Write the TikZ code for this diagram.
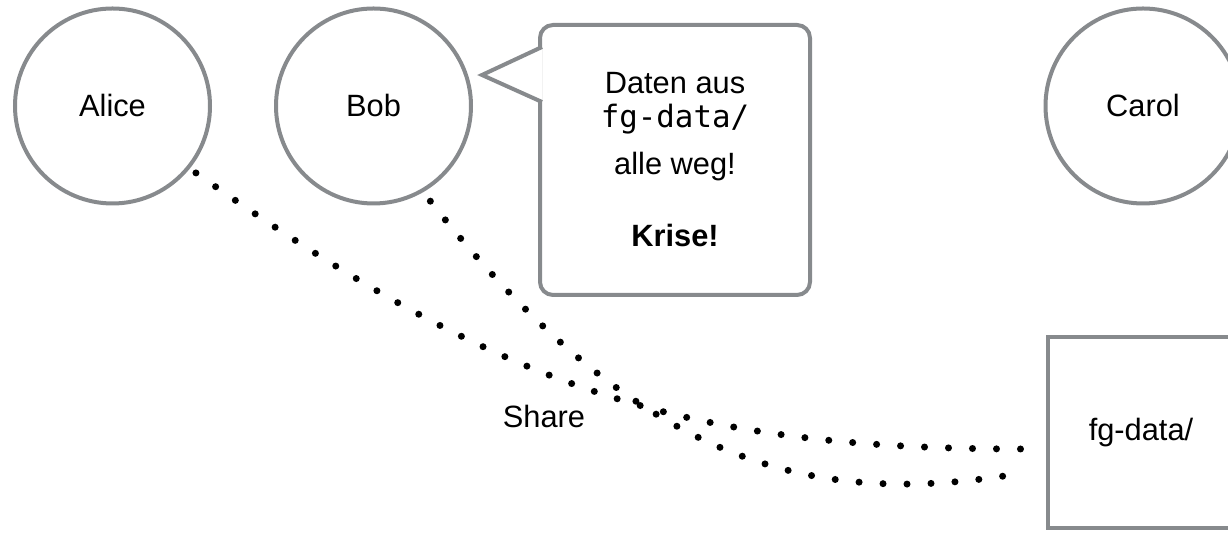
\documentclass[tikz,border=0pt]{standalone}
\usepackage{fontspec}
\setmainfont{Liberation Sans}
\setmonofont{DejaVu Sans Mono}
\definecolor{edgegray}{RGB}{135,138,141}
\tikzstyle{person} = [circle, minimum size=97.5pt, line width=2pt, draw=edgegray]
\tikzstyle{folder} = [rectangle, minimum width=93pt, minimum height=95.5pt, line width=2pt, draw=edgegray]
\tikzstyle{bubble} = [rectangle, rounded corners=6.5pt, minimum width=135pt, minimum height=135pt, line width=2pt, draw=edgegray, align=center]
\tikzstyle{share} = [line width=3.5pt, line cap=round, dash pattern=on 0pt off 12pt]

\begin{document}
\begin{tikzpicture}[x=0.5pt, y=0.5pt, font=\fontsize{15.4}{17}\selectfont]
		\useasboundingbox (0,0) rectangle (1228,539);
		\node (alice) [person] at (112.5,433) {Alice};
		\node (bob) [person] at (373.5,433) {Bob};
		\node (carol) [person] at (1143,433) {Carol};
		\node (fgdata) [folder] at (1141,106.5) {fg-data/};
		\node (bubble) [bubble] at (675,379) {Daten aus\\\texttt{fg-data/}\\[6.5pt]alle weg!\\[19pt]\textbf{Krise!}};
		% pointer of the bubble towards Bob
		\coordinate (bobtip) at (482,464);
		\filldraw [fill=white, draw=edgegray, line width=2pt] ([xshift=2pt, yshift=56.5pt]bubble.west) -- (bobtip) -- ([xshift=2pt, yshift=29pt]bubble.west);
		\node (sharelabel) at (544,122) {Share};
		\draw [share, shorten <=3.75pt] (alice.-39.5) .. controls (495,155) and (673,90) .. ([xshift=-11.5pt, yshift=-8.25pt]fgdata.west);
		\draw [share, shorten <=5.75pt] (bob.-60) .. controls (646,64) and (823,32) .. ([xshift=-11.5pt, yshift=-20.25pt]fgdata.west);
	\end{tikzpicture}
\end{document}
